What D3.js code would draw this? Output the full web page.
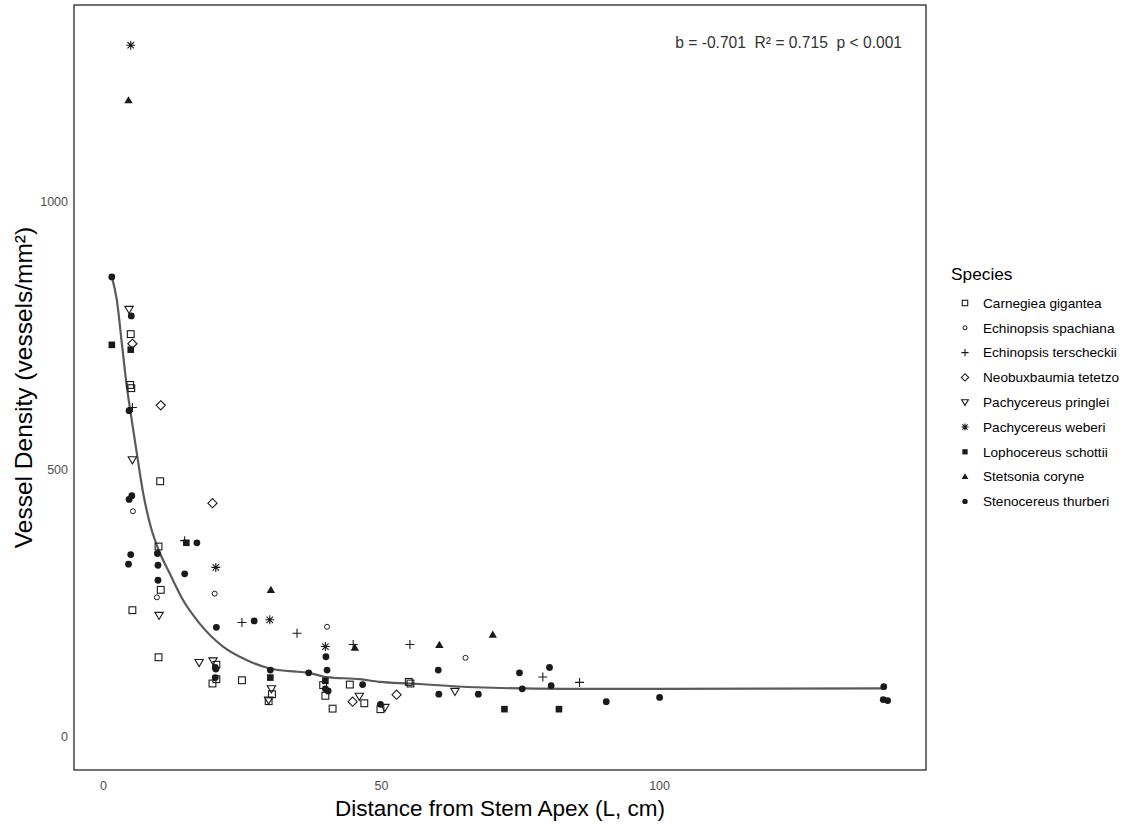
<!DOCTYPE html>
<html>
<head>
<meta charset="utf-8">
<script src="https://cdn.jsdelivr.net/npm/d3@7"></script>
<style>
  html, body { margin: 0; padding: 0; background: #fff; }
  svg { display: block; }
</style>
</head>
<body>
<svg id="chart" width="1132" height="826"></svg>
<script>
// ---------- data ----------
const speciesNames = [
  "Carnegiea gigantea", "Echinopsis spachiana", "Echinopsis terscheckii",
  "Neobuxbaumia tetetzo", "Pachycereus pringlei", "Pachycereus weberi",
  "Lophocereus schottii", "Stetsonia coryne", "Stenocereus thurberi"
];
const carnegiea = [[5.0,753],[4.9,658],[5.1,652],[10.3,478],[10,356],[10.4,275],[5.3,237],[10,149],[20.4,135],[20.4,108],[19.7,100],[25,106],[30.4,80],[29.8,67],[39.6,97],[40,77],[44.4,98],[47,63],[41.3,53],[49.9,52],[55,103],[55.3,100]];
const spachiana = [[5.4,422],[9.7,261],[20.1,268],[40.3,206],[65.2,148]];
const terscheckii = [[5.3,616],[14.7,367],[25,214],[34.9,194],[45,173],[55.2,173],[79.1,112],[85.7,102]];
const tetetzo = [[5.3,735],[10.4,620],[19.7,437],[44.9,66],[52.8,79]];
const pringlei = [[4.7,799],[5.3,518],[10.1,227],[17.3,139],[19.8,142],[30.3,90],[29.8,69],[46.1,76],[50.7,55],[63.3,85]];
const weberi = [[5.0,1293],[20.3,317],[30,219],[40,169]];
const schottii = [[1.6,733],[5.0,724],[15,363],[30.1,111],[40,105],[72.2,52],[82,52]];
const coryne = [[4.6,1190],[30.2,275],[45.3,167],[60.5,172],[70.1,191]];
const thurberi = [[1.6,860],[5.1,787],[4.7,610],[4.7,444],[5.2,451],[5.0,341],[4.6,323],[16.9,363],[9.8,343],[9.9,321],[14.7,305],[9.9,293],[27.2,217],[20.4,205],[20.2,130],[20.3,127],[20.2,111],[30.1,125],[37,120],[40.1,150],[40.3,125],[40.5,86],[40,90],[46.7,98],[49.9,61],[60.3,125],[60.4,80],[67.5,80],[74.9,120],[75.4,90],[80.3,130],[80.6,96],[90.5,66],[100.1,74],[140.4,94],[140.3,70],[141.1,68]];
const seriesValues = [carnegiea, spachiana, terscheckii, tetetzo, pringlei, weberi, schottii, coryne, thurberi];

// fitted curve
const fitX = [1.6, 2.5, 3.4, 4.3, 5.0, 6.1, 7.25, 8.6, 10, 12, 14.4, 17.4, 21.6, 25.8, 30, 33.6, 37, 40.2, 46.2, 49.8, 55.2, 66.9, 82.8, 91.2, 100, 140.4];
const fitY = [860, 817, 736, 655, 605, 530, 455, 393, 350, 306, 256, 212, 169, 144, 128, 123, 120, 112, 108, 103, 100, 93, 90, 90, 90, 91];

const xTicks = [0, 50, 100];
const yTicks = [0, 500, 1000];
const xDomain = [-5.2, 148.0];
const yDomain = [-61.7, 1368.2];
const annotation = "b = -0.701  R\u00b2 = 0.715  p < 0.001";

// ---------- layout ----------
const svg = d3.select("#chart");
const P = { left: 74, right: 926, top: 5, bottom: 770 };
const x = d3.scaleLinear().domain(xDomain).range([P.left, P.right]);
const y = d3.scaleLinear().domain(yDomain).range([P.bottom, P.top]);
const tickFont = "'Liberation Sans Narrow', 'Arial Narrow', 'Liberation Sans', Arial, sans-serif";
const mainFont = "'Liberation Sans', Arial, sans-serif";
const ink = "#1a1a1a";

// marker drawing
function drawShape(g, idx, cx, cy, scale) {
  const s = scale || 1;
  const sw = 1.1;
  switch (idx) {
    case 0: { const h = 3.4 * s; g.append("rect").attr("x", cx - h).attr("y", cy - h).attr("width", 2*h).attr("height", 2*h).attr("fill", "none").attr("stroke", ink).attr("stroke-width", sw); break; }
    case 1: { g.append("circle").attr("cx", cx).attr("cy", cy).attr("r", 2.5 * s).attr("fill", "none").attr("stroke", ink).attr("stroke-width", sw*0.9); break; }
    case 2: { const h = 4.5 * s; g.append("path").attr("d", `M${cx-h},${cy}H${cx+h}M${cx},${cy-h}V${cy+h}`).attr("stroke", ink).attr("stroke-width", sw).attr("fill", "none"); break; }
    case 3: { const h = 4.6 * s; g.append("path").attr("d", `M${cx},${cy-h}L${cx+h},${cy}L${cx},${cy+h}L${cx-h},${cy}Z`).attr("fill", "none").attr("stroke", ink).attr("stroke-width", sw); break; }
    case 4: { const h = 4.2 * s; g.append("path").attr("d", `M${cx-h},${cy-h*0.75}L${cx+h},${cy-h*0.75}L${cx},${cy+h*0.95}Z`).attr("fill", "none").attr("stroke", ink).attr("stroke-width", sw); break; }
    case 5: { const h = 4.5 * s; let d = `M${cx-h},${cy}H${cx+h}M${cx},${cy-h}V${cy+h}`; const k = h*0.72; d += `M${cx-k},${cy-k}L${cx+k},${cy+k}M${cx-k},${cy+k}L${cx+k},${cy-k}`; g.append("path").attr("d", d).attr("stroke", ink).attr("stroke-width", sw).attr("fill", "none"); break; }
    case 6: { const h = 3.3 * s; g.append("rect").attr("x", cx - h).attr("y", cy - h).attr("width", 2*h).attr("height", 2*h).attr("fill", ink); break; }
    case 7: { const h = 4.2 * s; g.append("path").attr("d", `M${cx},${cy-h}L${cx+h},${cy+h*0.72}L${cx-h},${cy+h*0.72}Z`).attr("fill", ink); break; }
    case 8: { g.append("circle").attr("cx", cx).attr("cy", cy).attr("r", 3.4 * s).attr("fill", ink); break; }
  }
}

// panel frame
svg.append("rect").attr("x", P.left).attr("y", P.top).attr("width", P.right - P.left).attr("height", P.bottom - P.top)
  .attr("fill", "#fff").attr("stroke", "#000").attr("stroke-width", 1.1);

// axes (labels only, no tick marks)
const xAxis = svg.append("g").attr("transform", `translate(0,${P.bottom})`)
  .call(d3.axisBottom(x).tickValues(xTicks).tickSize(0).tickPadding(11).tickFormat(d3.format("d")));
xAxis.select(".domain").remove();
xAxis.selectAll("text").attr("font-family", tickFont).attr("font-size", 12.5).attr("fill", "#4d4d4d");

const yAxis = svg.append("g").attr("transform", `translate(${P.left},0)`)
  .call(d3.axisLeft(y).tickValues(yTicks).tickSize(0).tickPadding(6).tickFormat(d3.format("d")));
yAxis.select(".domain").remove();
yAxis.selectAll("text").attr("font-family", tickFont).attr("font-size", 12.5).attr("fill", "#4d4d4d");

// fitted curve
const fit = fitX.map((v, i) => [v, fitY[i]]);
svg.append("path").datum(fit)
  .attr("d", d3.line().curve(d3.curveMonotoneX).x(d => x(d[0])).y(d => y(d[1])))
  .attr("fill", "none").attr("stroke", "#5a5a5a").attr("stroke-width", 2.2).attr("stroke-linejoin", "round");

// points
const pts = svg.append("g");
seriesValues.forEach((arr, i) => {
  arr.forEach(d => drawShape(pts, i, x(d[0]), y(d[1]), 1));
});

// annotation
svg.append("text").attr("x", 902).attr("y", 48).attr("text-anchor", "end")
  .attr("font-family", mainFont).attr("font-size", 15.6).attr("fill", "#333").attr("xml:space", "preserve")
  .text(annotation);

// axis titles
svg.append("text").attr("x", (P.left + P.right) / 2).attr("y", 816).attr("text-anchor", "middle")
  .attr("font-family", mainFont).attr("font-size", 22.5).attr("fill", "#000")
  .text("Distance from Stem Apex (L, cm)");
svg.append("text").attr("transform", `translate(32,${(P.top + P.bottom) / 2}) rotate(-90)`).attr("text-anchor", "middle")
  .attr("font-family", mainFont).attr("font-size", 24.5).attr("fill", "#000")
  .text("Vessel Density (vessels/mm\u00b2)");

// legend
const lg = svg.append("g");
lg.append("text").attr("x", 951).attr("y", 280).attr("font-family", mainFont).attr("font-size", 17.3).attr("fill", "#000").text("Species");
speciesNames.forEach((name, i) => {
  const cy = 303 + i * 24.8;
  drawShape(lg, i, 965, cy, 0.8);
  lg.append("text").attr("x", 983).attr("y", cy + 4.7).attr("font-family", mainFont).attr("font-size", 13.6).attr("fill", "#000").text(name);
});
</script>
</body>
</html>
